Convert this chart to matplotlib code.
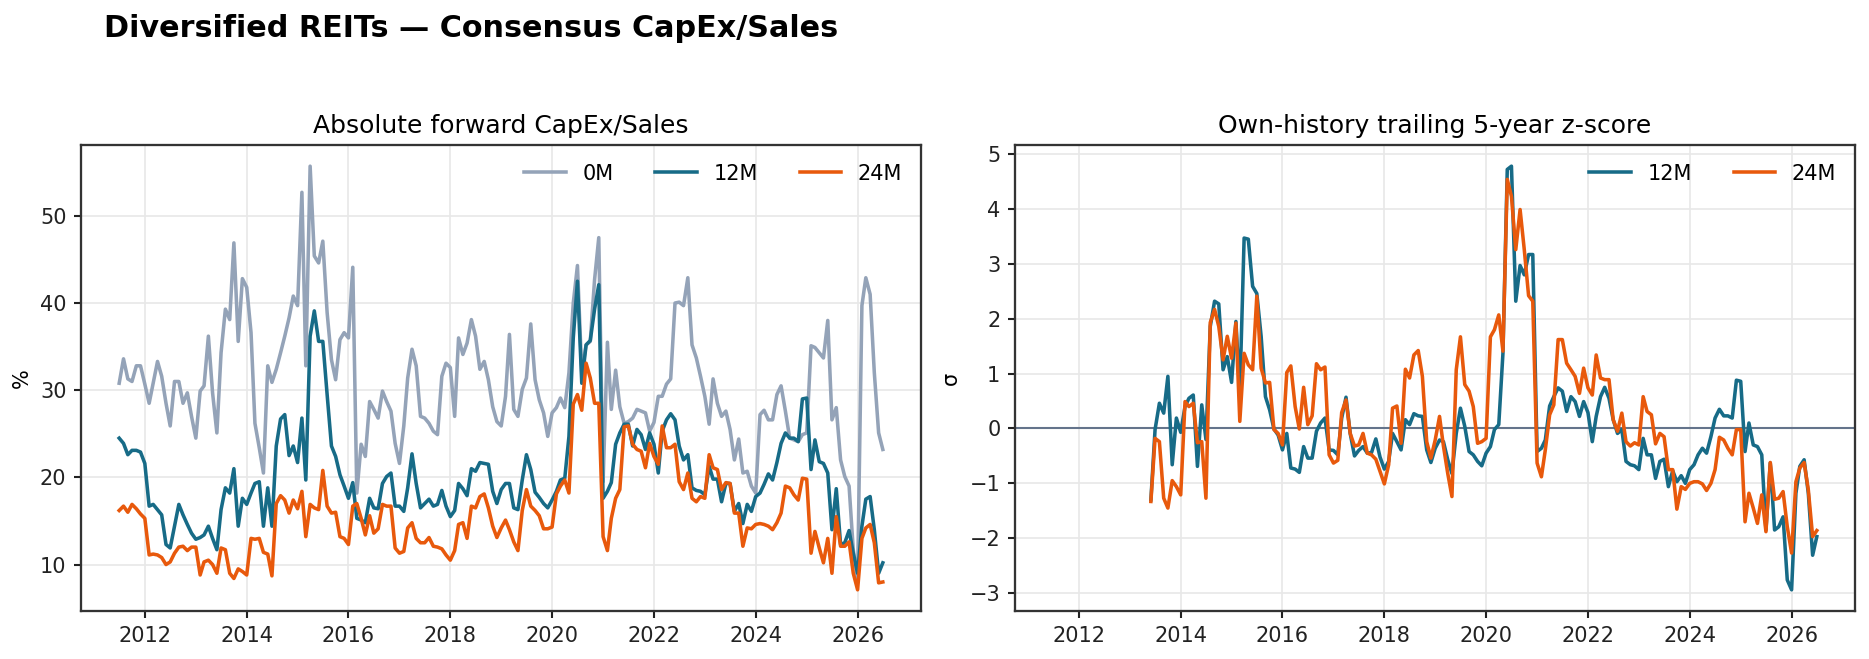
import numpy as np
import pandas as pd
import matplotlib
matplotlib.use("Agg")
import matplotlib.pyplot as plt

# ---------------- data (monthly, Jul 2011 .. Jul 2026) ----------------
start_month = "2011-07-01"
n_months = 181

capex_0m = [
    30.8, 33.6, 31.3, 31.0, 32.8, 32.8, 30.7, 28.5, 30.8, 33.3,
    31.6, 28.5, 25.9, 31.0, 31.0, 28.5, 29.7, 27.0, 24.5, 29.9,
    30.5, 36.2, 29.7, 25.1, 34.3, 39.3, 38.1, 46.9, 35.6, 42.8,
    41.8, 36.6, 26.2, 23.4, 20.5, 32.8, 30.9, 32.4, 34.3, 36.2,
    38.3, 40.8, 39.7, 52.7, 32.8, 55.7, 45.4, 44.6, 47.1, 38.9,
    33.5, 31.2, 35.8, 36.6, 36.0, 44.1, 18.2, 23.8, 22.4, 28.7,
    27.8, 26.8, 29.9, 28.7, 27.6, 23.9, 21.6, 25.9, 31.4, 34.7,
    32.8, 27.0, 26.8, 26.2, 25.3, 24.9, 31.6, 33.1, 32.6, 27.0,
    36.0, 34.1, 35.4, 38.1, 36.2, 32.4, 33.3, 31.2, 28.1, 26.4,
    25.9, 29.3, 36.4, 27.8, 27.0, 30.1, 31.4, 37.6, 31.2, 28.9,
    27.4, 24.7, 27.4, 28.0, 29.1, 28.0, 32.0, 40.0, 44.3, 32.0,
    35.2, 35.6, 42.7, 47.5, 19.5, 35.5, 27.8, 32.3, 28.1, 26.2,
    26.4, 26.8, 27.8, 27.6, 27.4, 25.3, 26.3, 29.3, 29.3, 30.7,
    31.3, 40.0, 40.1, 39.7, 42.9, 35.2, 33.7, 31.6, 29.3, 26.1,
    31.3, 28.5, 27.0, 27.6, 25.5, 22.0, 24.4, 20.5, 20.7, 19.0,
    18.2, 27.2, 27.7, 26.6, 26.6, 29.5, 30.5, 27.6, 24.5, 24.3,
    24.1, 24.9, 25.1, 35.1, 34.9, 34.3, 33.7, 38.0, 26.6, 28.0,
    22.0, 20.1, 19.0, 11.7, 8.2, 39.7, 42.9, 41.0, 32.0, 25.1,
    23.2,
]

capex_12m = [
    24.5, 23.9, 22.6, 23.1, 23.1, 22.9, 21.6, 16.7, 16.9, 16.3,
    15.7, 12.3, 11.9, 14.4, 16.9, 15.7, 14.6, 13.6, 12.9, 13.1,
    13.4, 14.4, 13.0, 11.7, 16.3, 18.8, 18.2, 21.0, 14.4, 17.6,
    16.9, 18.2, 19.3, 19.5, 14.4, 18.8, 14.4, 23.6, 26.7, 27.2,
    22.5, 23.6, 21.7, 26.8, 19.7, 36.2, 39.1, 35.6, 35.6, 29.5,
    23.6, 22.4, 20.3, 19.0, 17.6, 19.4, 15.3, 15.1, 14.8, 17.6,
    16.5, 16.4, 19.3, 20.1, 20.5, 16.7, 16.7, 16.1, 18.8, 22.7,
    19.3, 16.5, 17.0, 17.5, 16.7, 16.9, 18.5, 16.7, 15.5, 16.2,
    19.3, 18.7, 17.9, 21.0, 20.7, 21.7, 21.6, 21.5, 18.4, 17.0,
    18.6, 19.3, 19.3, 16.5, 16.3, 19.7, 22.6, 20.9, 18.3, 17.7,
    17.0, 16.5, 17.4, 18.4, 19.7, 19.9, 24.7, 36.0, 42.5, 30.8,
    35.2, 35.7, 39.3, 42.1, 17.6, 18.4, 19.4, 23.8, 25.1, 26.1,
    26.1, 23.6, 25.5, 24.9, 23.2, 25.1, 23.8, 20.5, 25.3, 26.6,
    27.3, 26.6, 23.6, 22.0, 22.6, 18.8, 18.5, 18.4, 18.0, 21.3,
    19.8, 19.8, 17.2, 19.3, 19.3, 16.1, 17.0, 14.7, 16.9, 16.1,
    17.8, 18.2, 19.2, 20.4, 19.7, 21.7, 23.9, 25.1, 24.5, 24.5,
    24.1, 29.0, 29.1, 20.9, 24.3, 21.8, 21.6, 20.5, 14.0, 18.7,
    12.3, 12.5, 13.9, 11.3, 9.0, 14.4, 17.5, 17.8, 14.0, 9.0,
    10.2,
]

capex_24m = [
    16.2, 16.7, 16.0, 16.9, 16.4, 15.8, 15.3, 11.1, 11.2, 11.1,
    10.8, 10.0, 10.3, 11.3, 12.0, 12.1, 11.6, 12.0, 12.0, 8.8,
    10.3, 10.5, 10.0, 9.0, 11.9, 11.7, 9.0, 8.4, 9.5, 9.2,
    8.8, 13.0, 12.9, 13.0, 11.4, 11.2, 8.7, 17.0, 17.9, 17.4,
    15.9, 17.4, 16.4, 18.4, 13.2, 16.9, 16.5, 16.3, 20.8, 16.7,
    15.9, 16.0, 13.2, 13.0, 12.3, 16.7, 17.0, 15.3, 13.4, 15.6,
    13.6, 14.1, 16.9, 16.7, 16.7, 11.9, 11.3, 11.5, 14.2, 14.8,
    13.0, 12.5, 12.5, 13.1, 12.1, 12.0, 11.8, 11.1, 10.5, 11.6,
    14.6, 14.8, 13.0, 16.7, 16.5, 17.8, 18.1, 16.5, 14.4, 13.1,
    14.2, 15.1, 14.0, 12.6, 11.6, 16.2, 18.6, 16.7, 16.2, 15.6,
    14.1, 14.1, 14.3, 18.1, 19.0, 19.7, 18.2, 28.4, 29.5, 27.7,
    33.1, 31.4, 28.5, 28.5, 13.2, 11.6, 15.3, 17.6, 18.6, 25.8,
    25.9, 23.8, 23.2, 23.0, 21.1, 23.9, 22.4, 21.5, 25.9, 23.4,
    23.4, 23.8, 19.5, 18.6, 20.5, 17.6, 17.2, 17.8, 17.6, 22.6,
    21.1, 20.9, 18.6, 19.4, 19.3, 15.9, 15.9, 12.1, 14.2, 14.1,
    14.6, 14.7, 14.6, 14.4, 14.0, 14.8, 15.9, 19.0, 18.8, 18.0,
    17.4, 19.9, 19.8, 11.3, 13.8, 11.9, 10.2, 13.0, 9.0, 15.5,
    12.1, 12.1, 12.6, 9.0, 7.1, 13.0, 14.2, 14.6, 12.5, 7.9,
    8.0,
]

# z-scores start at the 24th month (Jun 2013)
z_first_index = 23

z_12m = [
    -1.30, -0.02, 0.46, 0.28, 0.95, -0.66, 0.19, -0.07, 0.40, 0.55,
    0.61, -0.69, 0.43, -0.20, 1.86, 2.32, 2.27, 1.07, 1.31, 0.84,
    1.95, 0.64, 3.47, 3.45, 2.59, 2.46, 1.68, 0.58, 0.34, -0.01,
    -0.12, -0.39, -0.09, -0.72, -0.74, -0.80, -0.33, -0.54, -0.54, -0.05,
    0.10, 0.19, -0.39, -0.40, -0.48, 0.19, 0.57, -0.09, -0.50, -0.40,
    -0.33, -0.45, -0.44, -0.19, -0.52, -0.74, -0.60, -0.09, -0.24, -0.39,
    0.16, 0.07, 0.27, 0.23, 0.22, -0.39, -0.62, -0.36, -0.21, -0.24,
    -0.57, -0.82, -0.09, 0.37, 0.04, -0.42, -0.48, -0.60, -0.68, -0.45,
    -0.33, -0.02, 0.07, 1.37, 4.72, 4.78, 2.32, 2.97, 2.80, 3.17,
    3.17, -0.42, -0.36, -0.21, 0.41, 0.58, 0.74, 0.68, 0.31, 0.58,
    0.49, 0.22, 0.49, 0.29, -0.24, 0.22, 0.58, 0.75, 0.55, 0.16,
    -0.09, -0.02, -0.60, -0.66, -0.68, -0.75, -0.18, -0.48, -0.48, -0.91,
    -0.60, -0.56, -1.06, -0.77, -0.97, -0.86, -1.00, -0.75, -0.66, -0.48,
    -0.36, -0.45, -0.15, 0.19, 0.35, 0.23, 0.23, 0.19, 0.88, 0.86,
    -0.42, 0.10, -0.30, -0.33, -0.48, -1.85, -0.63, -1.85, -1.79, -1.61,
    -2.76, -2.94, -1.18, -0.69, -0.57, -1.18, -2.31, -1.97,
]

z_24m = [
    -1.33, -0.18, -0.24, -1.27, -1.45, -0.95, -1.06, -1.21, 0.49, 0.40,
    0.46, -0.26, -0.24, -1.27, 1.93, 2.17, 1.86, 1.25, 1.68, 1.28,
    1.92, 0.13, 1.37, 1.16, 1.07, 2.41, 1.10, 0.83, 0.84, -0.02,
    -0.09, -0.30, 1.02, 1.14, 0.40, -0.01, 0.75, 0.07, 0.23, 1.18,
    1.07, 1.12, -0.48, -0.63, -0.58, 0.29, 0.52, -0.09, -0.32, -0.30,
    -0.09, -0.45, -0.48, -0.56, -0.78, -1.01, -0.66, 0.37, 0.41, -0.27,
    1.08, 0.92, 1.34, 1.42, 0.95, -0.24, -0.54, -0.21, 0.22, -0.32,
    -0.82, -1.24, 1.07, 1.67, 0.80, 0.68, 0.40, -0.27, -0.24, -0.18,
    1.67, 1.80, 2.07, 1.41, 4.54, 4.23, 3.26, 3.99, 3.26, 2.42,
    2.32, -0.63, -0.88, -0.39, 0.25, 0.43, 1.62, 1.62, 1.19, 1.07,
    0.95, 0.64, 1.10, 0.74, 0.61, 1.34, 0.92, 0.89, 0.89, 0.16,
    -0.05, 0.28, -0.24, -0.32, -0.26, -0.30, 0.58, 0.31, 0.25, -0.28,
    -0.09, -0.15, -0.75, -0.75, -1.47, -1.06, -1.11, -1.00, -0.97, -0.97,
    -1.01, -1.13, -1.00, -0.75, -0.16, -0.21, -0.36, -0.48, -0.02, -0.02,
    -1.70, -1.18, -1.45, -1.73, -1.21, -1.88, -0.62, -1.29, -1.27, -1.15,
    -1.79, -2.27, -0.97, -0.72, -0.62, -1.12, -1.97, -1.86,
]

series_labels = ["0M", "12M", "24M"]
main_title = "Diversified REITs \u2014 Consensus CapEx/Sales"
left_title = "Absolute forward CapEx/Sales"
right_title = "Own-history trailing 5-year z-score"

# ---------------- build ----------------
dates = pd.date_range(start_month, periods=n_months, freq="MS")
pad = [np.nan] * z_first_index
z12_full = np.array(pad + z_12m, dtype=float)
z24_full = np.array(pad + z_24m, dtype=float)

C_GRAY = "#94A3B8"
C_TEAL = "#176B87"
C_ORANGE = "#E8590C"
C_ZERO = "#64748B"
LW = 1.7

plt.rcParams["font.family"] = ["DejaVu Sans"]
fig = plt.figure(figsize=(1869 / 150, 659 / 150), dpi=150)
axL = fig.add_axes([81 / 1869, 1 - 611 / 659, 840 / 1869, 466 / 659])
axR = fig.add_axes([1015 / 1869, 1 - 611 / 659, 840 / 1869, 466 / 659])

for ax in (axL, axR):
    ax.grid(True, color="#e8e8e8", linewidth=0.8)
    ax.set_axisbelow(True)
    for sp in ax.spines.values():
        sp.set_color("#333333")
        sp.set_linewidth(1.1)
    ax.tick_params(labelsize=10, colors="#222222", width=1.0)

axL.plot(dates, capex_0m, color=C_GRAY, lw=LW, label=series_labels[0])
axL.plot(dates, capex_12m, color=C_TEAL, lw=LW, label=series_labels[1])
axL.plot(dates, capex_24m, color=C_ORANGE, lw=LW, label=series_labels[2])
axL.set_title(left_title, fontsize=12)
axL.set_ylabel("%", fontsize=10)
axL.legend(loc="upper right", ncol=3, frameon=False, fontsize=10)

axR.axhline(0, color=C_ZERO, lw=1.0)
axR.plot(dates, z12_full, color=C_TEAL, lw=LW, label=series_labels[1])
axR.plot(dates, z24_full, color=C_ORANGE, lw=LW, label=series_labels[2])
axR.set_title(right_title, fontsize=12)
axR.set_ylabel("\u03c3", fontsize=10)
axR.set_xlim(axL.get_xlim())
axR.legend(loc="upper right", ncol=2, frameon=False, fontsize=10)

fig.text(104 / 1869, 1 - 37 / 659, main_title, fontsize=14.5, fontweight="bold",
         ha="left", va="baseline")

fig.savefig("out.png", dpi=150)
